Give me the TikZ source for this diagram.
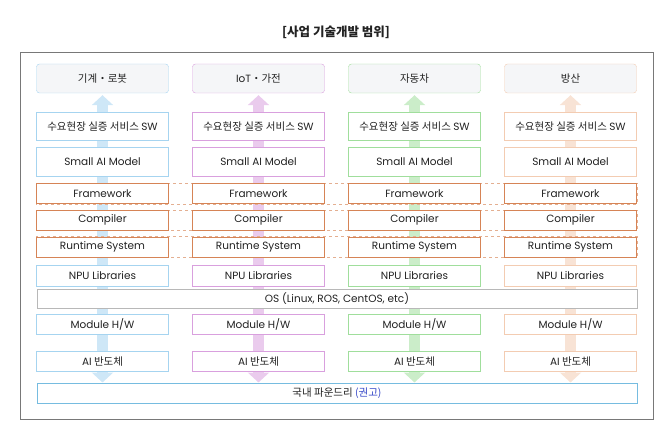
\documentclass[tikz,border=0pt]{standalone}
\usepackage{fontspec}
\setmainfont{Noto Sans CJK KR}
\newfontfamily\lat{Poppins}
\definecolor{robotblue}{RGB}{166,212,240}
\definecolor{iotviolet}{RGB}{217,160,222}
\definecolor{cargreen}{RGB}{160,222,156}
\definecolor{defpeach}{RGB}{243,204,178}
\definecolor{layerorange}{RGB}{214,132,86}
\definecolor{appgray}{RGB}{245,246,248}
\definecolor{osgray}{RGB}{184,184,184}
\definecolor{framegray}{RGB}{120,120,120}
\definecolor{fabblue}{RGB}{118,188,224}
\definecolor{inkgray}{RGB}{34,34,34}
\definecolor{notebl}{RGB}{52,70,200}
\usetikzlibrary{positioning,arrows.meta,backgrounds}

\begin{document}
\begin{tikzpicture}[
  x=1pt, y=-1pt,
  node distance=6pt,
  font=\fontsize{10.5}{12}\selectfont,
  text=inkgray,
  appbox/.style={draw=#1, rounded corners=3pt, fill=appgray, minimum width=132pt, minimum height=29pt, inner sep=0pt},
  box/.style={draw=#1, fill=white, minimum width=132pt, minimum height=20pt, inner sep=0pt},
  layerbox/.style={box=layerorange, line width=0.9pt},
  widebox/.style={draw=#1, fill=white, minimum width=600pt, minimum height=20pt, inner sep=0pt},
  lane/.style={draw=layerorange!65, dashed, line width=0.8pt},
  flow/.style={line width=11pt, -{Triangle[width=21pt,length=10pt]}, draw=#1}
]
\useasboundingbox (0,0) rectangle (670,436);
\draw[framegray, line width=0.8pt] (20,52) rectangle (653,419);
\node[font=\fontsize{12.5}{14}\selectfont\bfseries] (title) at (336,32) {[사업 기술개발 범위]};

\node[widebox=osgray, minimum height=19pt] (os) at (337,298.5) {\lat OS (Linux, ROS, CentOS, etc)};
\node[widebox=fabblue, line width=1pt] (fab) at (337,393) {국내 파운드리 \textcolor{notebl}{(권고)}};

\foreach \i/\x/\c/\app in {1/102.5/robotblue/{기계・로봇}, 2/258.5/iotviolet/{{\lat IoT}・가전},
                           3/414.5/cargreen/{자동차}, 4/570.5/defpeach/{방산}} {
  \node[appbox=\c] (top\i) at (\x,78.5) {\app};
  \node[box=\c, minimum height=28pt, below=19pt of top\i] (sw\i) {수요현장 실증 서비스 {\lat SW}};
  \node[box=\c, minimum height=29pt, below=of sw\i] (model\i) {\lat Small AI Model};
  \node[layerbox, below=7pt of model\i] (frame\i) {\lat Framework};
  \node[layerbox, below=of frame\i] (comp\i) {\lat Compiler};
  \node[layerbox, below=of comp\i] (run\i) {\lat Runtime System};
  \node[box=\c, minimum height=21pt, below=7pt of run\i] (npu\i) {\lat NPU Libraries};
  \node[box=\c] (mod\i) at (top\i |- 0,324) {\lat Module H/W};
  \node[box=\c, below=17pt of mod\i] (chip\i) {{\lat AI} 반도체};
  % flows behind the stack
  \begin{scope}[on background layer]
    \draw[flow=\c!55, shorten >=2pt] (mod\i.center) -- (top\i.south);
    \draw[flow=\c!55] (mod\i.center) -- (mod\i |- fab.north);
  \end{scope}
}

\begin{scope}[on background layer]
  \draw[lane] (frame1.north west) rectangle (frame4.south east);
  \draw[lane] (comp1.north west) rectangle (comp4.south east);
  \draw[lane] (run1.north west) rectangle (run4.south east);
\end{scope}
\end{tikzpicture}
\end{document}
